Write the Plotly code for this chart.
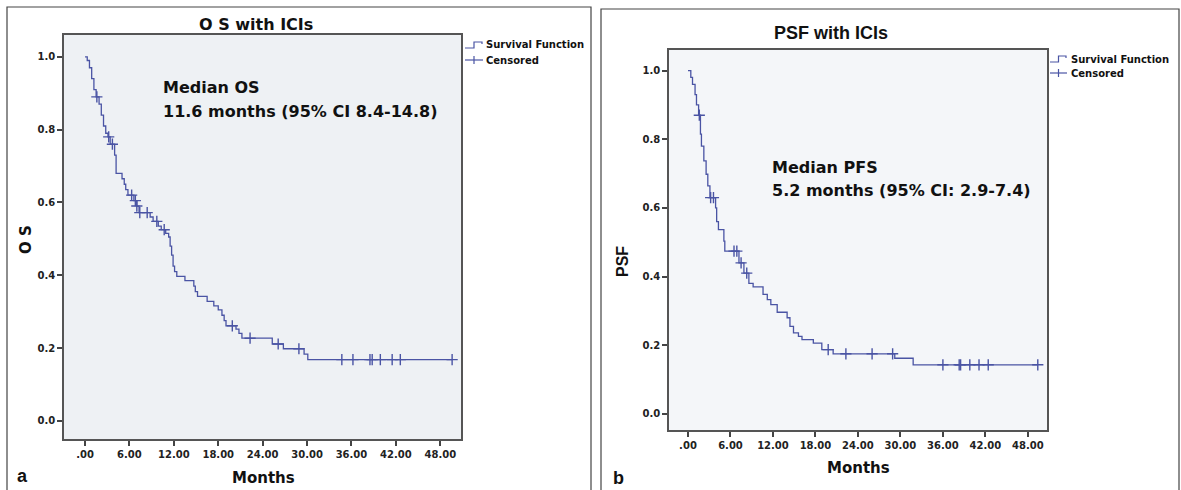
import numpy as np
import plotly.graph_objects as go

# ---------------- data ----------------
os_times = [0, 0.3, 0.6, 0.9, 1.2, 1.5, 1.9, 2.2, 2.5, 2.8, 3.1, 3.4, 4.0, 4.2, 5.0, 5.3, 5.5, 5.8,
            6.6, 7.0, 7.3, 8.8, 9.2, 9.9, 10.3, 10.9, 11.3, 11.5, 11.7, 11.9, 12.1, 12.4, 13.5,
            14.7, 14.9, 15.2, 16.5, 17.4, 18.0, 18.5, 18.8, 19.05, 20.4, 20.8, 21.2, 25.3, 26.8,
            29.6, 30.1]
os_surv = [1.0, 0.99, 0.97, 0.94, 0.91, 0.89, 0.87, 0.84, 0.81, 0.79, 0.78, 0.76, 0.73, 0.68, 0.665,
           0.65, 0.635, 0.62, 0.605, 0.59, 0.572, 0.56, 0.548, 0.535, 0.525, 0.515, 0.505, 0.48,
           0.455, 0.425, 0.41, 0.397, 0.385, 0.37, 0.355, 0.342, 0.328, 0.316, 0.305, 0.29, 0.275,
           0.261, 0.252, 0.24, 0.227, 0.211, 0.198, 0.183, 0.168]
os_censor = [1.6, 3.2, 3.7, 6.3, 6.8, 7.0, 7.4, 8.4, 9.7, 10.7, 19.9, 22.3, 26.1, 28.9,
             34.7, 36.2, 38.5, 38.8, 39.9, 41.5, 42.6, 49.6]

pfs_times = [0, 0.4, 0.64, 1.0, 1.2, 1.5, 1.76, 1.9, 2.24, 2.56, 2.8, 3.1, 3.9, 4.05, 4.3, 5.07, 5.2,
             7.2, 7.9, 8.6, 9.2, 10.6, 11.2, 11.7, 12.6, 14.0, 14.4, 14.9, 15.6, 16.1, 17.7, 18.9,
             20.5, 29.2, 31.8]
pfs_surv = [1.0, 0.98, 0.96, 0.93, 0.90, 0.87, 0.815, 0.78, 0.737, 0.698, 0.664, 0.63, 0.60, 0.56,
            0.537, 0.503, 0.474, 0.44, 0.41, 0.38, 0.37, 0.348, 0.333, 0.318, 0.296, 0.28, 0.255,
            0.236, 0.226, 0.216, 0.206, 0.187, 0.175, 0.162, 0.143]
pfs_censor = [1.6, 3.2, 3.6, 6.5, 6.9, 7.5, 8.3, 19.8, 22.3, 26.0, 28.9, 36.0, 38.3, 38.5,
              39.8, 41.1, 42.4, 49.4]

x_ticks = [0, 6, 12, 18, 24, 30, 36, 42, 48]
x_tick_text = [".00", "6.00", "12.00", "18.00", "24.00", "30.00", "36.00", "42.00", "48.00"]
y_ticks = [0.0, 0.2, 0.4, 0.6, 0.8, 1.0]
y_tick_text = ["0.0", "0.2", "0.4", "0.6", "0.8", "1.0"]

# ---------------- helpers ----------------
W, H = 1181, 490
CURVE = "#4a54a4"
BOLD_WIDE = "DejaVu Sans"
ARIAL = "Liberation Sans, Arial"


def px(x):
    return x / W


def py(y):
    return 1 - y / H


def step_values(times, surv, t):
    times = np.asarray(times)
    surv = np.asarray(surv)
    idx = np.searchsorted(times, np.asarray(t), side="right") - 1
    return surv[idx]


def curve_xy(times, surv, censor):
    x = list(times) + [max(censor)]
    y = list(surv) + [surv[-1]]
    return x, y


fig = go.Figure()

for (times, surv, censor, xa, ya) in [
    (os_times, os_surv, os_censor, "x", "y"),
    (pfs_times, pfs_surv, pfs_censor, "x2", "y2"),
]:
    cx, cy = curve_xy(times, surv, censor)
    fig.add_trace(go.Scatter(x=cx, y=cy, mode="lines", line=dict(color=CURVE, width=1.3, shape="hv"),
                             xaxis=xa, yaxis=ya, showlegend=False, hoverinfo="skip"))
    fig.add_trace(go.Scatter(x=censor, y=step_values(times, surv, censor), mode="markers",
                             marker=dict(symbol="cross-thin", size=8, line=dict(color=CURVE, width=1.4)),
                             xaxis=xa, yaxis=ya, showlegend=False, hoverinfo="skip"))

axis_common = dict(showline=True, linecolor="#555555", linewidth=1.5, mirror=True,
                   ticks="outside", ticklen=5, tickwidth=1.5, tickcolor="#444444",
                   showgrid=False, zeroline=False,
                   tickfont=dict(family=BOLD_WIDE, size=10, color="#222222", weight="bold"))

fig.update_layout(
    width=W, height=H, margin=dict(l=0, r=0, t=0, b=0),
    paper_bgcolor="white", showlegend=False,
    xaxis=dict(domain=[px(64), px(461)], range=[-2.84, 50.8], tickvals=x_ticks, ticktext=x_tick_text,
               anchor="y", **axis_common),
    yaxis=dict(domain=[py(439), py(35)], range=[-0.05, 1.06], tickvals=y_ticks, ticktext=y_tick_text,
               anchor="x", **axis_common),
    xaxis2=dict(domain=[px(669), px(1047)], range=[-2.68, 50.7], tickvals=x_ticks, ticktext=x_tick_text,
                anchor="y2", **axis_common),
    yaxis2=dict(domain=[py(430), py(50)], range=[-0.047, 1.06], tickvals=y_ticks, ticktext=y_tick_text,
                anchor="x2", **axis_common),
)

# plot backgrounds and panel frames
shapes = [
    dict(type="rect", xref="x domain", yref="y domain", x0=0, x1=1, y0=0, y1=1,
         fillcolor="#eef1f4", line=dict(width=0), layer="below"),
    dict(type="rect", xref="x2 domain", yref="y2 domain", x0=0, x1=1, y0=0, y1=1,
         fillcolor="#f4f6f9", line=dict(width=0), layer="below"),
    dict(type="rect", xref="paper", yref="paper", x0=px(7), x1=px(591), y0=py(495), y1=py(7),
         line=dict(color="#444444", width=1.2), fillcolor="rgba(0,0,0,0)"),
    dict(type="rect", xref="paper", yref="paper", x0=px(601), x1=px(1179), y0=py(495), y1=py(9),
         line=dict(color="#444444", width=1.2), fillcolor="rgba(0,0,0,0)"),
]


# legend icons (drawn)
def legend_icons(x0, x1, y_sf, y_c):
    xm = (x0 + x1) / 2
    path = (f"M {px(x0)} {py(y_sf + 3)} L {px(xm)} {py(y_sf + 3)} L {px(xm)} {py(y_sf - 3)} "
            f"L {px(x1 - 1)} {py(y_sf - 3)} L {px(x1 - 1)} {py(y_sf - 1)}")
    return [
        dict(type="path", xref="paper", yref="paper", path=path, line=dict(color=CURVE, width=1.2)),
        dict(type="line", xref="paper", yref="paper", x0=px(x0), x1=px(x1), y0=py(y_c), y1=py(y_c),
             line=dict(color=CURVE, width=1.2)),
        dict(type="line", xref="paper", yref="paper", x0=px(xm), x1=px(xm), y0=py(y_c - 4), y1=py(y_c + 4),
             line=dict(color=CURVE, width=1.2)),
    ]


shapes += legend_icons(465, 483, 45, 60)
shapes += legend_icons(1050, 1067, 59, 73)
fig.update_layout(shapes=shapes)


def ann(text, x, y, size, family, xanchor="center", yanchor="middle", angle=0, weight="bold"):
    fig.add_annotation(text=text, x=px(x), y=py(y), xref="paper", yref="paper", showarrow=False,
                       xanchor=xanchor, yanchor=yanchor, textangle=angle, borderpad=0,
                       font=dict(family=family, size=size, color="#111111", weight=weight))


# titles
ann("O S with ICIs", 256, 25, 16, BOLD_WIDE)
ann("PSF with ICIs", 831, 33, 18, ARIAL)
# axis titles
ann("Months", 263, 478, 15, BOLD_WIDE)
ann("Months", 858, 468, 15, BOLD_WIDE)
ann("O S", 26, 240, 15, BOLD_WIDE, angle=-90)
ann("PSF", 622, 262, 16, ARIAL, angle=-90)
# panel letters
ann("a", 22, 476, 18, ARIAL)
ann("b", 618, 478, 18, ARIAL)
# medians
ann("Median OS", 162, 88, 16, BOLD_WIDE, xanchor="left")
ann("11.6 months (95% CI 8.4-14.8)", 162, 111, 16, BOLD_WIDE, xanchor="left")
ann("Median PFS", 771, 167, 16, BOLD_WIDE, xanchor="left")
ann("5.2 months (95% CI: 2.9-7.4)", 771, 190, 16, BOLD_WIDE, xanchor="left")
# legend texts
ann("Survival Function", 485, 45, 10, BOLD_WIDE, xanchor="left")
ann("Censored", 485, 60, 10, BOLD_WIDE, xanchor="left")
ann("Survival Function", 1070, 59, 10, BOLD_WIDE, xanchor="left")
ann("Censored", 1070, 73, 10, BOLD_WIDE, xanchor="left")

fig.write_html(
    "out.html",
    config={"displayModeBar": False},
    post_script="document.body.style.margin='0';document.body.style.overflow='hidden';",
)
